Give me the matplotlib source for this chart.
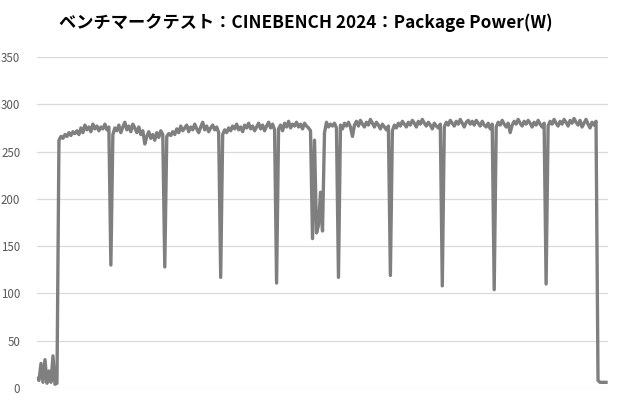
import matplotlib
matplotlib.use("Agg")
import matplotlib.pyplot as plt
import numpy as np

plt.rcParams['font.family'] = ['Noto Sans CJK JP', 'DejaVu Sans']

title = "ベンチマークテスト：CINEBENCH 2024：Package Power(W)"
y_ticks = [0, 50, 100, 150, 200, 250, 300, 350]

# package power samples (W)
power = [
    10, 8, 26, 6, 30, 5, 18, 6, 34, 4,
    5, 262, 266, 264, 268, 266, 270, 267, 271, 269,
    272, 268, 275, 270, 278, 273, 276, 271, 279, 274,
    277, 272, 276, 274, 279, 273, 276, 130, 268, 275,
    272, 278, 270, 276, 281, 273, 277, 271, 279, 275,
    270, 276, 268, 272, 258, 266, 271, 264, 268, 262,
    270, 265, 272, 268, 128, 266, 269, 267, 271, 268,
    274, 270, 277, 272, 275, 278, 271, 276, 273, 279,
    274, 270, 276, 281, 273, 277, 271, 275, 278, 273,
    276, 270, 117, 268, 273, 270, 275, 272, 277, 274,
    279, 273, 276, 271, 278, 275, 280, 274, 277, 272,
    276, 280, 274, 278, 272, 277, 281, 275, 279, 273,
    111, 274, 278, 272, 280, 276, 282, 275, 279, 277,
    281, 276, 279, 274, 280, 277, 275, 272, 158, 262,
    164, 172, 207, 166, 270, 281, 276, 279, 277, 280,
    275, 117, 278, 274, 280, 277, 281, 276, 266, 278,
    282, 277, 283, 279, 276, 281, 278, 284, 280, 276,
    281, 278, 274, 279, 276, 273, 277, 119, 272, 278,
    275, 280, 277, 282, 279, 276, 281, 278, 283, 280,
    276, 282, 279, 284, 280, 277, 281, 278, 274, 280,
    277, 275, 279, 108, 276, 281, 278, 283, 280, 277,
    282, 279, 284, 280, 276, 281, 283, 279, 282, 278,
    283, 280, 277, 282, 278, 276, 280, 274, 279, 104,
    276, 281, 278, 283, 279, 276, 280, 270, 278, 282,
    279, 284, 280, 277, 282, 279, 283, 280, 276, 281,
    278, 283, 279, 276, 280, 110, 277, 282, 279, 284,
    280, 277, 282, 279, 284, 281, 277, 283, 280, 285,
    281, 278, 283, 276, 280, 284, 279, 275, 281, 278,
    282, 8, 6, 6, 6, 6,
]

x = np.arange(len(power))

fig = plt.figure(figsize=(6.2, 4.0), dpi=100)
ax = fig.add_axes([37 / 620, 12 / 400, 571 / 620, 331 / 400])

ax.plot(x, power, color='#7f7f7f', linewidth=2.4, solid_joinstyle='round')

ax.set_ylim(0, 350)
ax.set_xlim(0, len(power))
ax.set_yticks(y_ticks)
ax.set_xticks([])
ax.grid(axis='y', color='#d9d9d9', linewidth=0.9)
ax.set_axisbelow(True)
for s in ax.spines.values():
    s.set_visible(False)
ax.tick_params(axis='y', length=0, pad=12, labelsize=8.3, labelcolor='#595959')

fig.text(0.494, 0.943, title, ha='center', va='center', fontsize=12.4,
         fontweight='bold', color='black')

fig.savefig('out.png', dpi=100)
